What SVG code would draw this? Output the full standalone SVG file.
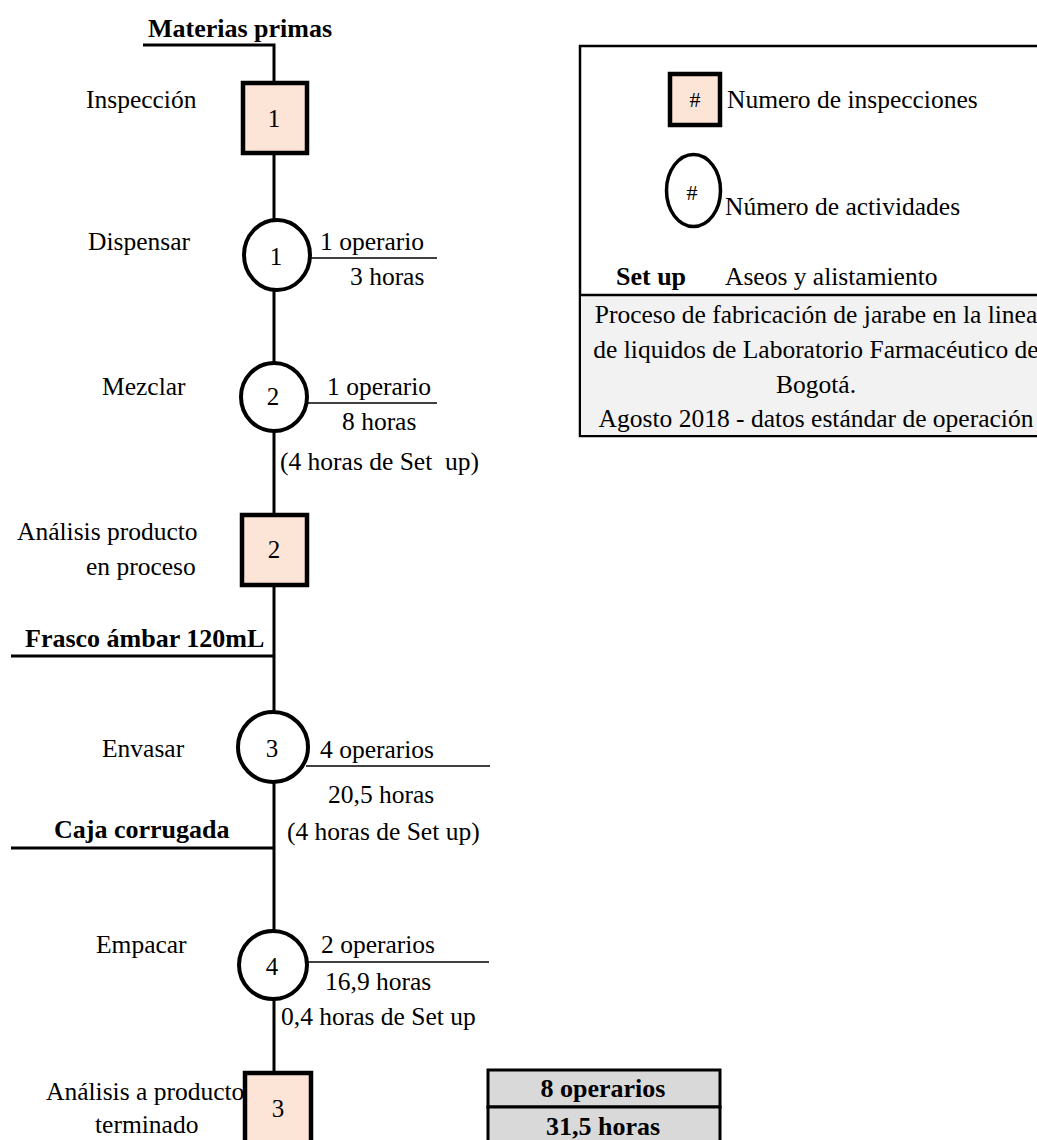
<svg xmlns="http://www.w3.org/2000/svg" width="1037" height="1140" viewBox="0 0 1037 1140">
  <style>
    text { font-family: "Liberation Serif", "Times New Roman", serif; font-size: 25.5px; fill: #000; white-space: pre; }
    .b { font-weight: bold; font-size: 26px; }
    .c { text-anchor: middle; }
    .num { font-size: 25px; text-anchor: middle; }
    .flow { stroke: #000; stroke-width: 3; fill: none; }
    .thin { stroke: #000; stroke-width: 1.5; fill: none; }
    .insp { fill: #FCE4D6; stroke: #000; stroke-width: 4.5; }
    .act { fill: #fff; stroke: #000; stroke-width: 4; }
  </style>

  <!-- connectors: main flow line and material feed lines -->
  <g id="connectors">
    <path class="flow" d="M143 45 H274 V1072"/>
    <line class="flow" x1="11" y1="656" x2="274" y2="656"/>
    <line class="flow" x1="11" y1="848" x2="274" y2="848"/>
    <line class="thin" x1="310" y1="258" x2="437" y2="258"/>
    <line class="thin" x1="308" y1="403" x2="437" y2="403"/>
    <line class="thin" x1="306" y1="766" x2="490" y2="766"/>
    <line class="thin" x1="307" y1="962" x2="489" y2="962"/>
  </g>

  <!-- raw material inputs -->
  <g id="input-materias">
    <text class="b" x="148" y="37">Materias primas</text>
  </g>
  <g id="input-frasco">
    <text class="b" x="25" y="647">Frasco ámbar 120mL</text>
  </g>
  <g id="input-caja">
    <text class="b" x="54" y="838">Caja corrugada</text>
  </g>

  <!-- inspection 1 -->
  <g id="inspeccion-1">
    <rect class="insp" x="243" y="83" width="64" height="70"/>
    <text class="num" x="274" y="127">1</text>
    <text x="86" y="108">Inspección</text>
  </g>

  <!-- activity 1 -->
  <g id="actividad-1">
    <ellipse class="act" cx="277" cy="255" rx="33" ry="35"/>
    <text class="num" x="276" y="265">1</text>
    <text x="88" y="250">Dispensar</text>
    <text x="320" y="250">1 operario</text>
    <text x="350" y="285">3 horas</text>
  </g>

  <!-- activity 2 -->
  <g id="actividad-2">
    <ellipse class="act" cx="274" cy="397" rx="33" ry="34"/>
    <text class="num" x="273" y="405">2</text>
    <text x="102" y="395">Mezclar</text>
    <text x="327" y="395">1 operario</text>
    <text x="342" y="430">8 horas</text>
    <text x="280" y="470">(4 horas de Set  up)</text>
  </g>

  <!-- inspection 2 -->
  <g id="inspeccion-2">
    <rect class="insp" x="242" y="515" width="65" height="70"/>
    <text class="num" x="274" y="558">2</text>
    <text x="17" y="540">Análisis producto</text>
    <text x="86" y="575">en proceso</text>
  </g>

  <!-- activity 3 -->
  <g id="actividad-3">
    <ellipse class="act" cx="273" cy="747" rx="35" ry="35"/>
    <text class="num" x="272" y="757">3</text>
    <text x="102" y="757">Envasar</text>
    <text x="320" y="758">4 operarios</text>
    <text x="328" y="803">20,5 horas</text>
    <text x="287" y="840">(4 horas de Set up)</text>
  </g>

  <!-- activity 4 -->
  <g id="actividad-4">
    <ellipse class="act" cx="273" cy="965" rx="34" ry="34"/>
    <text class="num" x="272" y="975">4</text>
    <text x="96" y="953">Empacar</text>
    <text x="321" y="953">2 operarios</text>
    <text x="325" y="990">16,9 horas</text>
    <text x="281" y="1025">0,4 horas de Set up</text>
  </g>

  <!-- inspection 3 -->
  <g id="inspeccion-3">
    <rect class="insp" x="245" y="1073" width="66" height="80"/>
    <text class="num" x="278" y="1117">3</text>
    <text x="46" y="1100">Análisis a producto</text>
    <text x="95" y="1133">terminado</text>
  </g>

  <!-- totals -->
  <g id="totales">
    <rect x="488" y="1070" width="232" height="37" fill="#D9D9D9" stroke="#000" stroke-width="3"/>
    <rect x="488" y="1107" width="232" height="45" fill="#D9D9D9" stroke="#000" stroke-width="3"/>
    <text class="b c" x="603" y="1097">8 operarios</text>
    <text class="b c" x="603" y="1135">31,5 horas</text>
  </g>

  <!-- legend and caption -->
  <g id="leyenda">
    <rect x="580" y="46" width="470" height="390" fill="#fff" stroke="#000" stroke-width="2.5"/>
    <rect x="581" y="296" width="470" height="139" fill="#F2F2F2"/>
    <line x1="580" y1="295" x2="1040" y2="295" stroke="#000" stroke-width="2.5"/>
    <rect class="insp" x="670" y="74" width="50" height="51"/>
    <text class="num" x="695" y="107" style="font-size:22px">#</text>
    <text x="727" y="108">Numero de inspecciones</text>
    <ellipse cx="693.5" cy="190.5" rx="27" ry="36" fill="#fff" stroke="#000" stroke-width="3.5"/>
    <text class="num" x="692" y="200" style="font-size:22px">#</text>
    <text x="725" y="215">Número de actividades</text>
    <text class="b" x="616" y="285">Set up</text>
    <text x="725" y="285">Aseos y alistamiento</text>
    <text class="c" x="816" y="323">Proceso de fabricación de jarabe en la linea</text>
    <text class="c" x="816" y="358">de liquidos de Laboratorio Farmacéutico de</text>
    <text class="c" x="816" y="393">Bogotá.</text>
    <text class="c" x="816" y="427">Agosto 2018 - datos estándar de operación</text>
  </g>
</svg>
